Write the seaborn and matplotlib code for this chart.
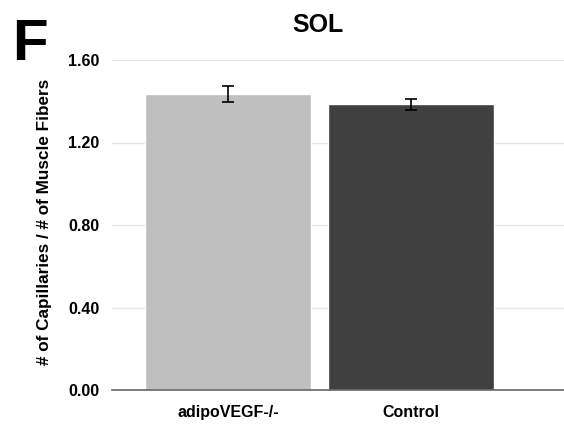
import matplotlib
matplotlib.use("Agg")
import matplotlib.pyplot as plt
import seaborn as sns
import pandas as pd

categories = ["adipoVEGF-/-", "Control"]
values = [1.435, 1.385]
errors = [0.04, 0.027]
yticks = [0.0, 0.4, 0.8, 1.2, 1.6]
colors = ["#bfbfbf", "#404040"]

sns.set_theme(style="white")
plt.rcParams['font.family'] = ['Liberation Sans', 'DejaVu Sans']
plt.rcParams['text.color'] = 'black'
plt.rcParams['xtick.color'] = 'black'
plt.rcParams['ytick.color'] = 'black'

df = pd.DataFrame({"group": categories, "value": values})

fig = plt.figure(figsize=(5.64, 4.24), dpi=100)
ax = fig.add_axes([112/564, 1-390/424, 1-112/564, 330/424])

sns.barplot(data=df, x="group", y="value", hue="group", palette=colors,
            width=0.91, legend=False, ax=ax, errorbar=None, saturation=1,
            zorder=2)
ax.errorbar(range(len(values)), values, yerr=errors, fmt="none",
            ecolor="black", elinewidth=1.2, capsize=4, capthick=1.2, zorder=3)

ax.set_xlim(-0.636, 1.84)
ax.set_ylim(0, 1.6)
ax.set_yticks(yticks)
ax.set_yticklabels([f"{v:.2f}" for v in yticks], fontsize=11.5, fontweight="bold",
                   color="black")
ax.tick_params(axis="y", length=0, pad=9)
ax.tick_params(axis="x", length=0, pad=11, labelsize=11.5, labelcolor="black")
for lbl in ax.get_xticklabels():
    lbl.set_fontweight("bold")
ax.yaxis.grid(True, color="#e6e6e6", linewidth=1, zorder=0)
ax.set_axisbelow(True)
for s in ["top", "right", "left"]:
    ax.spines[s].set_visible(False)
ax.spines["bottom"].set_color("#666666")
ax.spines["bottom"].set_linewidth(1.2)
ax.set_xlabel("")
ax.set_ylabel("")

fig.text(45/564, 1-222/424, "# of Capillaries / # of Muscle Fibers", rotation=90,
         ha="center", va="center", fontsize=12.3, fontweight="bold", color="black")
fig.text(318/564, 1-25/424, "SOL", ha="center", va="center", fontsize=18,
         fontweight="bold", color="black")
fig.text(30/564, 1-45/424, "F", ha="center", va="center", fontsize=42,
         fontweight="bold", color="black")

fig.savefig("out.png", dpi=100)
